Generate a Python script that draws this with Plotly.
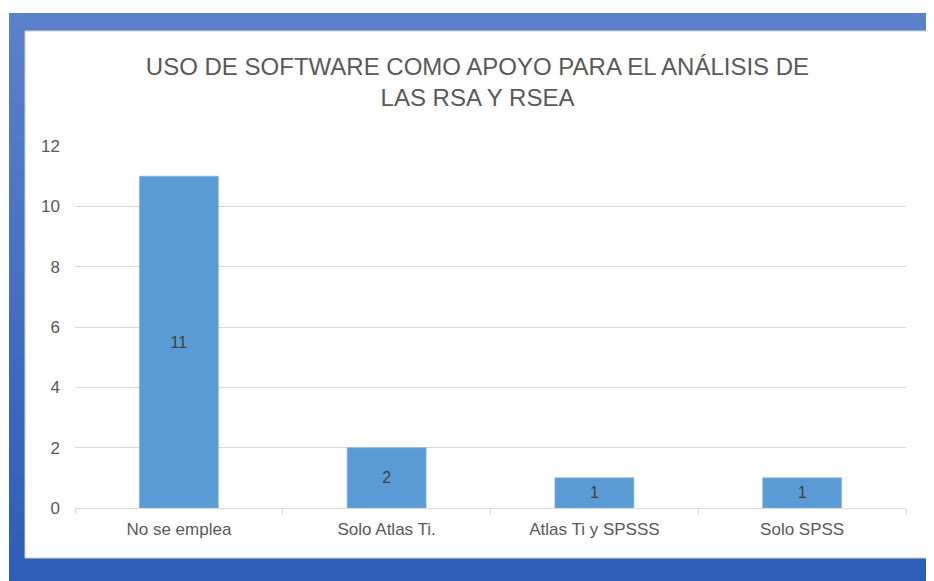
import plotly.graph_objects as go

categories = ["No se emplea", "Solo Atlas Ti.", "Atlas Ti y SPSSS", "Solo SPSS"]
counts = [11, 2, 1, 1]
y_ticks = [0, 2, 4, 6, 8, 10, 12]

W, H = 934, 581
OFF = 8  # the page body adds an 8px margin, so shift everything back
BAR_COLOR = "#5B9BD5"
GRID = "#D9D9D9"
TEXT = "#595959"


def px_x(x):
    return (x - OFF) / W


def px_y(y):
    return 1 - (y - OFF) / H


def blend(c1, c2, t):
    a = [int(c1[i:i + 2], 16) for i in (1, 3, 5)]
    b = [int(c2[i:i + 2], 16) for i in (1, 3, 5)]
    return "#" + "".join(f"{round(a[i] + (b[i] - a[i]) * t):02x}" for i in range(3))


fig = go.Figure(
    go.Bar(
        x=categories,
        y=counts,
        marker=dict(color=BAR_COLOR, line=dict(color="#7FB0E0", width=0.6)),
        text=counts,
        textposition="inside",
        insidetextanchor="middle",
        textfont=dict(family="Liberation Sans", size=16, color="#404040"),
        width=0.38,
        hoverinfo="x+y",
    )
)

# blue frame with a stepped vertical gradient (strips overlap to hide seams),
# then the white card on top
shapes = []
top, bottom, steps = 13, 581 + OFF, 40
for i in range(steps):
    y0 = top + (bottom - top) * i / steps
    y1 = min(bottom, top + (bottom - top) * (i + 1) / steps + 2)
    shapes.append(dict(
        type="rect", xref="paper", yref="paper", layer="below",
        x0=px_x(9), x1=px_x(934 + OFF), y0=px_y(y0), y1=px_y(y1),
        fillcolor=blend("#5C81CB", "#2D5DB7", i / (steps - 1)),
        line=dict(width=0),
    ))
shapes.append(dict(
    type="rect", xref="paper", yref="paper", layer="below",
    x0=px_x(25), x1=px_x(930), y0=px_y(558), y1=px_y(31),
    fillcolor="white", line=dict(color="#D0D0D0", width=1),
))

fig.update_layout(
    width=W,
    height=H,
    margin=dict(l=0, r=0, t=0, b=0, autoexpand=False),
    paper_bgcolor="white",
    plot_bgcolor="rgba(0,0,0,0)",
    shapes=shapes,
    showlegend=False,
    title=dict(
        text="USO DE SOFTWARE COMO APOYO PARA EL ANÁLISIS DE<br>LAS RSA Y RSEA",
        x=px_x(477.5),
        xanchor="center",
        y=px_y(75),
        yanchor="top",
        automargin=False,
        font=dict(family="Liberation Sans", size=24, color="#595959"),
    ),
    xaxis=dict(
        domain=[px_x(75), px_x(906)],
        automargin=False,
        showgrid=False,
        showline=True,
        linecolor=GRID,
        linewidth=1,
        ticks="outside",
        tickson="boundaries",
        ticklen=5,
        tickcolor=GRID,
        ticklabelstandoff=6,
        tickfont=dict(family="Liberation Sans", size=17, color=TEXT),
    ),
    yaxis=dict(
        domain=[px_y(508), px_y(146)],
        automargin=False,
        range=[0, 12],
        tickvals=y_ticks,
        showgrid=True,
        gridcolor=GRID,
        gridwidth=1,
        zeroline=False,
        showline=False,
        ticklabelstandoff=14,
        tickfont=dict(family="Liberation Sans", size=17, color=TEXT),
    ),
)

fig.write_html("out.html")
